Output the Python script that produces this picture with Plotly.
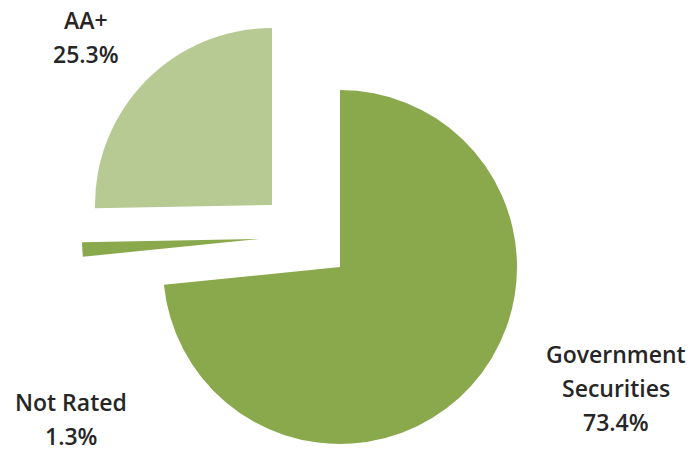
import plotly.graph_objects as go

# ---- data ----
categories = ["Government Securities", "Not Rated", "AA+"]
label_lines = [["Government", "Securities"], ["Not Rated"], ["AA+"]]
values = [73.4, 1.3, 25.3]

# ---- styling / layout (pixels) ----
W, H = 691, 451
R = 177
slice_colors = ["#8AA94D", "#8AA94D", "#B7CA93"]
slice_centers = [(340, 267), (259, 239), (272, 205)]   # exploded slice centres
label_first_baseline = [(616, 362), (71, 410), (86, 28)]
LINE_GAP = 34
FONT_SIZE = 23

fig = go.Figure()
for i, (cx, cy) in enumerate(slice_centers):
    cols = [slice_colors[j] if j == i else "rgba(0,0,0,0)" for j in range(len(values))]
    fig.add_trace(go.Pie(
        labels=categories,
        values=values,
        sort=False,
        direction="clockwise",
        rotation=0,
        marker=dict(colors=cols, line=dict(width=0)),
        textinfo="none",
        hoverinfo="label+percent",
        showlegend=False,
        domain=dict(x=[(cx - R) / W, (cx + R) / W],
                    y=[1 - (cy + R) / H, 1 - (cy - R) / H]),
    ))

for i, (lx, by) in enumerate(label_first_baseline):
    lines = label_lines[i] + [f"{values[i]}%"]
    for k, line in enumerate(lines):
        y_mid = by + k * LINE_GAP - 8
        fig.add_annotation(
            x=lx / W, y=1 - y_mid / H, xref="paper", yref="paper",
            text=line,
            showarrow=False, xanchor="center", yanchor="middle", align="center",
            font=dict(family="Open Sans", size=FONT_SIZE, color="#262626", weight=600),
        )

fig.update_layout(
    width=W, height=H,
    margin=dict(l=0, r=0, t=0, b=0),
    paper_bgcolor="white", plot_bgcolor="white",
)

fig.write_html("out.html")
